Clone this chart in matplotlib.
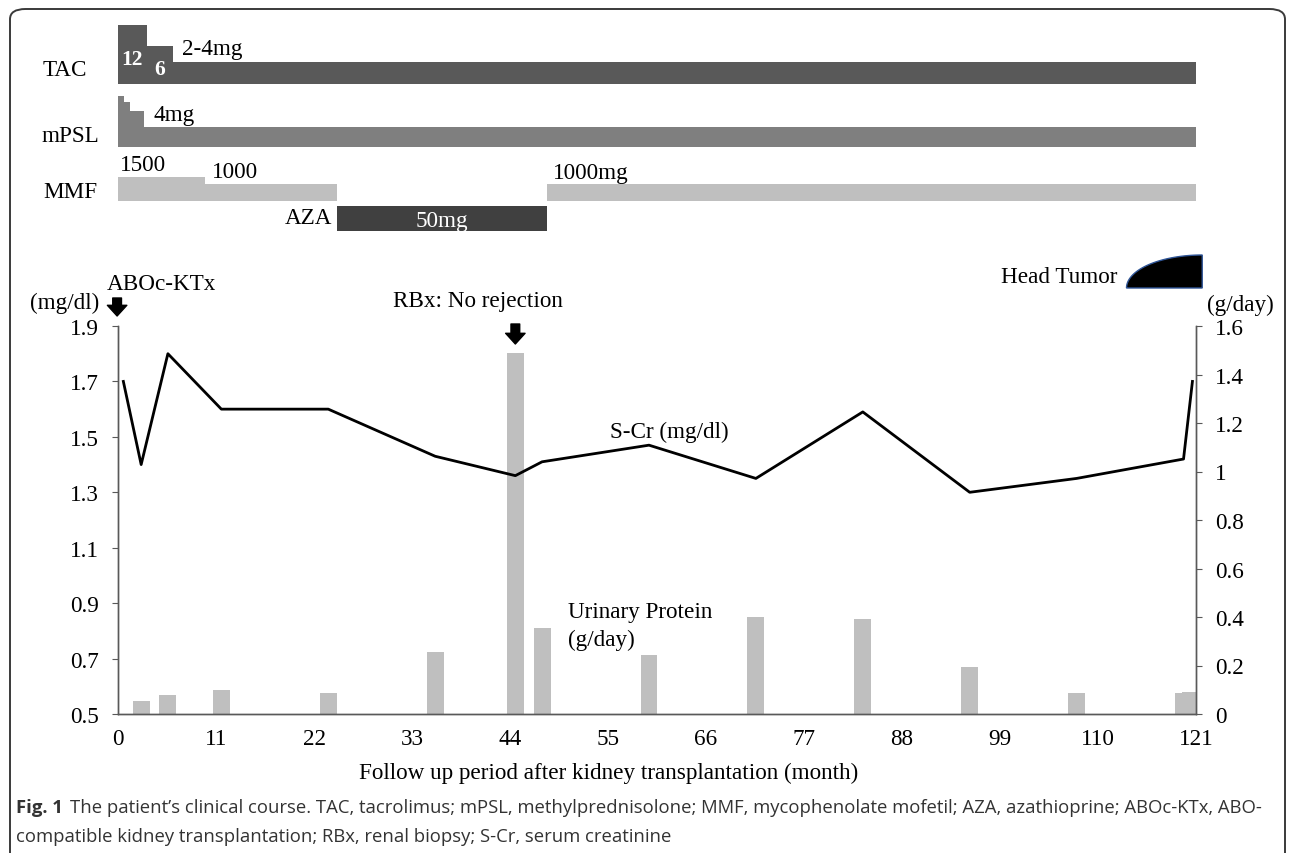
#!/usr/bin/env python3
"""Clinical course after kidney transplantation: regimen bars, S-Cr line and urinary protein bars."""

import numpy as np
import matplotlib

matplotlib.use("Agg")
import matplotlib.pyplot as plt
from matplotlib.patches import FancyBboxPatch, Polygon


# ---- data -----------------------------------------------------------------
scr_month = [0.6, 2.6, 5.6, 11.6, 23.6, 35.6, 44.6, 47.6, 59.6, 71.6, 83.6, 95.6, 107.6, 119.6, 120.6]
scr_value = [1.70, 1.40, 1.80, 1.60, 1.60, 1.43, 1.36, 1.41, 1.47, 1.35, 1.59, 1.30, 1.35, 1.42, 1.70]

up_month = [2.6, 5.6, 11.6, 23.6, 35.6, 44.6, 47.6, 59.6, 71.6, 83.6, 95.6, 107.6, 119.6, 120.4]
up_value = [0.055, 0.078, 0.10, 0.085, 0.254, 1.49, 0.355, 0.245, 0.40, 0.39, 0.195, 0.085, 0.085, 0.09]

x_ticks = [0, 11, 22, 33, 44, 55, 66, 77, 88, 99, 110, 121]
left_ticks = [0.5, 0.7, 0.9, 1.1, 1.3, 1.5, 1.7, 1.9]
right_ticks = [0, 0.2, 0.4, 0.6, 0.8, 1.0, 1.2, 1.4, 1.6]
right_labels = ["0", "0.2", "0.4", "0.6", "0.8", "1", "1.2", "1.4", "1.6"]

# regimen segments: (start month, end month)
tac_start = [0.0, 3.3, 3.3]
tac_end = [3.3, 6.2, 121.0]
tac_dose = ["12", "6", "2-4mg"]

mpsl_start = [0.0, 0.0, 0.7, 1.4]
mpsl_end = [121.0, 0.7, 1.4, 2.9]
mpsl_dose = ["4mg"]

mmf_start = [0.0, 9.8, 48.2]
mmf_end = [9.8, 24.6, 121.0]
mmf_dose = ["1500", "1000", "1000mg"]

aza_start = [24.6]
aza_end = [48.2]
aza_dose = ["50mg"]

ktx_month = 0.0
rbx_month = 44.6
tumor_start, tumor_end = 113.2, 121.7

# ---- layout (figure pixel rows used by the upper panel) --------------------
W, H = 1292, 854
AX_L, AX_R, AX_T, AX_B = 118, 1196, 327, 715

TAC_TOPS = [26, 47, 63]
TAC_BOTTOM = 85
MPSL_TOPS = [128, 97, 103, 112]
MPSL_BOTTOM = 148
MMF_TOPS = [178, 185, 185]
MMF_BOTTOM = 202
AZA_TOP, AZA_BOTTOM = 207, 232

SERIF = "Liberation Serif"
FS = 16.7


def fx(px):
    return px / W


def fy(py):
    return 1 - py / H


def month_of(px):
    return (px - AX_L) / (AX_R - AX_L) * 121


def draw_segments(ax, starts, ends, tops, bottom, color):
    for s, e, t in zip(starts, ends, tops):
        ax.bar(s, bottom - t, width=e - s, bottom=t, align="edge", color=color, linewidth=0)


def main():
    plt.rcParams.update({"font.family": SERIF, "font.size": FS})
    fig = plt.figure(figsize=(W / 100, H / 100), dpi=100)

    # outer rounded frame
    frame = FancyBboxPatch((fx(10), fy(880)), fx(1275), 870 / H,
                           boxstyle="round,pad=0,rounding_size=0.012",
                           transform=fig.transFigure, facecolor="none",
                           edgecolor="#3a3a3a", linewidth=1.4)
    fig.add_artist(frame)

    # ---- main axes
    ax = fig.add_axes([fx(AX_L), fy(AX_B), fx(AX_R - AX_L), (AX_B - AX_T) / H])
    ax2 = ax.twinx()
    ax.set_zorder(ax2.get_zorder() + 1)
    ax.patch.set_visible(False)

    ax2.bar(up_month, up_value, width=1.9, color="#bfbfbf", linewidth=0)
    ax.plot(scr_month, scr_value, color="black", linewidth=2.0)

    ax.set_xlim(0, 121)
    ax.set_ylim(0.5, 1.9)
    ax2.set_ylim(0, 1.6)
    ax.set_xticks(x_ticks)
    ax.set_yticks(left_ticks)
    ax.set_yticklabels([f"{v:.1f}" for v in left_ticks])
    ax2.set_yticks(right_ticks)
    ax2.set_yticklabels(right_labels)

    for a in (ax, ax2):
        a.spines["top"].set_visible(False)
        for side in ("left", "right", "bottom"):
            a.spines[side].set_color("#595959")
            a.spines[side].set_linewidth(1.0)
    ax.tick_params(axis="x", length=0, pad=10, labelsize=FS)
    ax.tick_params(axis="y", direction="out", length=4, color="#595959", pad=10, labelsize=FS)
    ax2.tick_params(axis="y", direction="out", length=4, color="#595959", pad=10, labelsize=FS)

    ax.set_xlabel("Follow up period after kidney transplantation (month)", fontsize=FS)
    ax.xaxis.set_label_coords((609 - AX_L) / (AX_R - AX_L), -(773 - AX_B) / (AX_B - AX_T))
    ax.xaxis.label.set_va("center")

    ax.text(month_of(610), 1.52, "S-Cr (mg/dl)", fontsize=FS, ha="left", va="center")
    ax.text(month_of(568), 0.82, "Urinary Protein\n(g/day)", fontsize=FS, ha="left",
            va="center", linespacing=1.45)

    # ---- upper panel (regimen + annotations), rows in pixel units
    up = fig.add_axes([fx(AX_L), fy(AX_T), fx(AX_R - AX_L), AX_T / H])
    up.set_xlim(0, 121)
    up.set_ylim(AX_T, 0)
    up.axis("off")

    draw_segments(up, tac_start, tac_end, TAC_TOPS, TAC_BOTTOM, "#595959")
    draw_segments(up, mpsl_start, mpsl_end, MPSL_TOPS, MPSL_BOTTOM, "#7f7f7f")
    draw_segments(up, mmf_start, mmf_end, MMF_TOPS, MMF_BOTTOM, "#bfbfbf")
    draw_segments(up, aza_start, aza_end, [AZA_TOP], AZA_BOTTOM, "#404040")

    kw = dict(fontsize=FS, clip_on=False)
    up.text(month_of(65), 70, "TAC", ha="center", va="center", **kw)
    up.text(month_of(70), 137, "mPSL", ha="center", va="center", **kw)
    up.text(month_of(70), 193, "MMF", ha="center", va="center", **kw)
    up.text(month_of(332), 219, "AZA", ha="right", va="center", **kw)

    up.text(month_of(132), 60, tac_dose[0], ha="center", va="center", color="white",
            fontweight="bold", fontsize=15.5)
    up.text(month_of(160), 70, tac_dose[1], ha="center", va="center", color="white",
            fontweight="bold", fontsize=15.5)
    up.text(month_of(182), 49, tac_dose[2], ha="left", va="center", fontsize=FS)
    up.text(month_of(154), 115, mpsl_dose[0], ha="left", va="center", fontsize=FS)
    up.text(month_of(120), 166, mmf_dose[0], ha="left", va="center", fontsize=FS)
    up.text(month_of(212), 173, mmf_dose[1], ha="left", va="center", fontsize=FS)
    up.text(month_of(553), 174, mmf_dose[2], ha="left", va="center", fontsize=FS)
    up.text((aza_start[0] + aza_end[0]) / 2, 222, aza_dose[0], ha="center", va="center",
            color="white", fontsize=FS)

    # event annotations
    arrow = dict(arrowstyle="simple,head_length=0.55,head_width=1.0,tail_width=0.45",
                 color="black", shrinkA=0, shrinkB=0, mutation_scale=14)
    up.annotate("", xy=(ktx_month - 0.1, 317), xytext=(ktx_month - 0.1, 299),
                arrowprops=arrow, annotation_clip=False)
    up.annotate("", xy=(rbx_month, 345), xytext=(rbx_month, 325),
                arrowprops=arrow, annotation_clip=False)
    up.text(month_of(107), 285, "ABOc-KTx", ha="left", va="center", **kw)
    up.text(month_of(99), 303, "(mg/dl)", ha="right", va="center", **kw)
    up.text(month_of(1207), 305, "(g/day)", ha="left", va="center", **kw)
    up.text(month_of(478), 302, "RBx: No rejection", ha="center", va="center", **kw)
    up.text(month_of(1117), 278, "Head Tumor", ha="right", va="center", **kw)

    t = np.linspace(0, np.pi / 2, 60)
    rx = tumor_end - tumor_start
    xs = np.append(tumor_end - rx * np.cos(t), tumor_end)
    ys = np.append(289 - 33 * np.sin(t), 289)
    up.add_patch(Polygon(np.column_stack([xs, ys]), closed=True, facecolor="black",
                         edgecolor="#2f5597", linewidth=1.0, clip_on=False))

    # caption
    cap = dict(family="Open Sans", fontsize=13.3, color="#333333", va="center")
    fig.text(fx(16), fy(808), "Fig. 1", fontweight="bold", **cap)
    fig.text(fx(70), fy(808),
             "The patient\u2019s clinical course. TAC, tacrolimus; mPSL, methylprednisolone; "
             "MMF, mycophenolate mofetil; AZA, azathioprine; ABOc-KTx, ABO-", **cap)
    fig.text(fx(16), fy(837),
             "compatible kidney transplantation; RBx, renal biopsy; S-Cr, serum creatinine", **cap)

    fig.savefig("out.png", dpi=100)
    plt.close(fig)


if __name__ == "__main__":
    main()
